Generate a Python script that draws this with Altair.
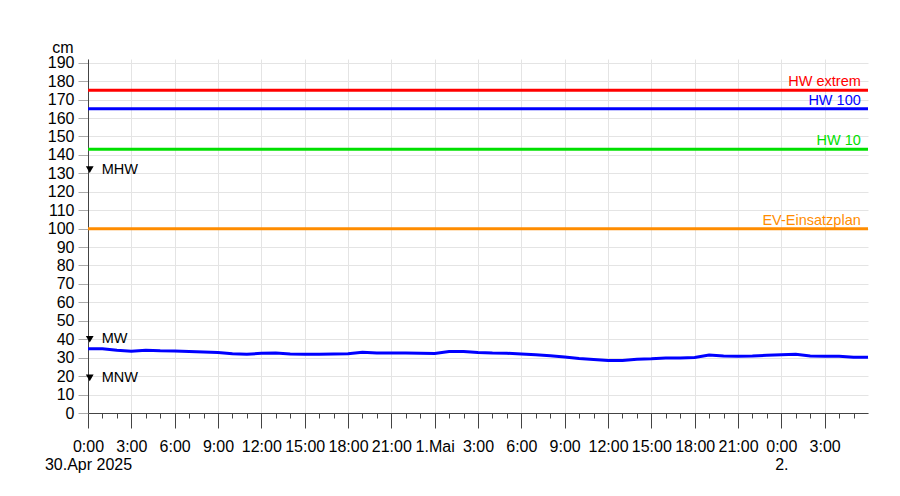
import altair as alt
import pandas as pd

# water level (cm), hourly from 30.Apr 2025 0:00
hours = list(range(0, 55))
level = [34.8, 34.8, 34.0, 33.5, 34.0, 33.7, 33.6, 33.3, 33.1, 32.8,
         32.2, 31.8, 32.4, 32.5, 32.0, 31.8, 31.8, 32.0, 32.2, 33.0,
         32.5, 32.5, 32.6, 32.4, 32.3, 33.3, 33.4, 32.8, 32.5, 32.4,
         32.0, 31.6, 31.0, 30.4, 29.6, 29.0, 28.5, 28.5, 29.2, 29.4,
         29.8, 29.8, 30.1, 31.4, 30.9, 30.8, 30.9, 31.3, 31.6, 31.8,
         30.9, 30.8, 30.8, 30.3, 30.2]

# axis ticks: every hour, labelled every 3 hours
x_ticks = list(range(0, 54))

thr_names = ["HW extrem", "HW 100", "HW 10", "EV-Einsatzplan"]
thr_values = [175, 165, 143, 100]
thr_colors = ["#ff0000", "#0000ff", "#00e000", "#ff8c00"]

mark_names = ["MHW", "MW", "MNW"]
mark_values = [132, 40, 19]

y_ticks = list(range(0, 200, 10))

FONT = "Liberation Sans"
W, H = 780, 354

df = pd.DataFrame({"h": hours, "v": level})
thr = pd.DataFrame({"name": thr_names, "v": thr_values, "c": thr_colors, "h": [53.5] * 4})
mk = pd.DataFrame({"name": mark_names, "v": mark_values, "h": [0.12] * 3})

label_expr = ("datum.value == 0 ? ['0:00','30.Apr 2025'] : datum.value == 24 ? '1.Mai' : "
              "datum.value == 48 ? ['0:00','2.'] : (datum.value % 3 == 0 ? (datum.value % 24) + ':00' : '')")

xscale = alt.Scale(domain=[0, 54], nice=False, zero=False)
yscale = alt.Scale(domain=[0, 192], nice=False)

xaxis = alt.Axis(values=x_ticks, labelExpr=label_expr, title=None,
                 tickSize={"expr": "datum.value % 3 == 0 ? 15 : 5"},
                 gridOpacity={"expr": "datum.value % 3 == 0 ? 1 : 0"},
                 labelOverlap=False, labelFlush=False, labelFontSize=16,
                 labelPadding=10, labelLineHeight=18, labelColor="#000",
                 tickColor="#444", domainColor="#444", gridColor="#e4e4e4",
                 labelFont=FONT)
yaxis = alt.Axis(values=y_ticks, title="cm", titleAngle=0, titleAlign="right",
                 titleBaseline="bottom", titleX=-15, titleY=-4, titleFontSize=16,
                 titleFontWeight="normal", titleFont=FONT, titleColor="#000",
                 labelFontSize=16, labelFont=FONT, labelColor="#000", labelPadding=4,
                 tickSize=10, tickColor="#aaa", domainColor="#444",
                 gridColor="#e4e4e4", labelOverlap=False, labelFlush=False)

X = alt.X("h:Q", scale=xscale, axis=xaxis)
Y = alt.Y("v:Q", scale=yscale, axis=yaxis)

base_line = alt.Chart(df).mark_line(color="#0000ff", strokeWidth=3).encode(x=X, y=Y)

rules = alt.Chart(thr).mark_rule(strokeWidth=3).encode(
    y=Y,
    color=alt.Color("c:N", scale=None),
)

rule_text = alt.Chart(thr).mark_text(align="right", baseline="alphabetic", dy=-4,
                                     fontSize=14.5, font=FONT).encode(
    x=X, y=Y,
    text="name:N",
    color=alt.Color("c:N", scale=None),
)

tri = alt.Chart(mk).mark_point(shape="triangle-down", filled=True, color="#000",
                               size=60, opacity=1).encode(x=X, y=Y)

tri_text = alt.Chart(mk).mark_text(align="left", baseline="middle", dx=12,
                                   fontSize=14.5, font=FONT, color="#000").encode(
    x=X, y=Y,
    text="name:N",
)

chart = alt.layer(base_line, rules, rule_text, tri, tri_text).properties(
    width=W, height=H,
    background="white",
    autosize=alt.AutoSizeParams(type="none"),
    padding={"left": 80, "top": 51, "right": 20, "bottom": 70},
).configure_view(stroke=None)

chart.save("out.html", embed_options={"renderer": "svg", "actions": False})
